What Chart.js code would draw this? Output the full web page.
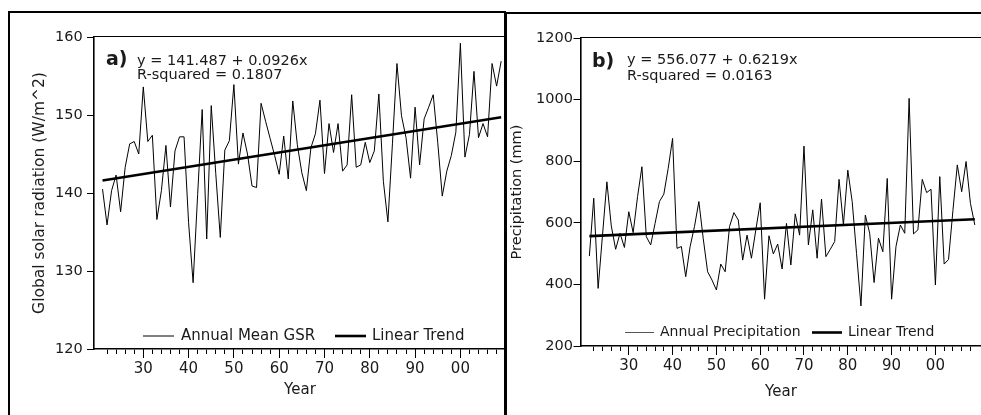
<!DOCTYPE html>
<html>
<head>
<meta charset="utf-8">
<script src="https://cdn.jsdelivr.net/npm/chart.js@4.4.1/dist/chart.umd.min.js"></script>
<style>
html,body{margin:0;padding:0;background:#fff;width:981px;height:415px;overflow:hidden;}
#wrap{position:relative;width:981px;height:415px;overflow:hidden;}
canvas{position:absolute;top:0;}
#cA{left:0;}
#cB{left:506px;}
.frameA{position:absolute;left:8px;top:11px;width:496px;height:430px;border-left:2px solid #000;border-top:2px solid #000;pointer-events:none;}
.frameB{position:absolute;left:504px;top:12px;width:500px;height:430px;border-left:3px solid #000;border-top:2px solid #000;pointer-events:none;}
</style>
</head>
<body>
<div id="wrap">
  <canvas id="cA" width="506" height="415"></canvas>
  <canvas id="cB" width="475" height="415"></canvas>
  <div class="frameA"></div>
  <div class="frameB"></div>
</div>
<script>
// ---------- data ----------
const years = [1921,1922,1923,1924,1925,1926,1927,1928,1929,1930,
  1931,1932,1933,1934,1935,1936,1937,1938,1939,1940,
  1941,1942,1943,1944,1945,1946,1947,1948,1949,1950,
  1951,1952,1953,1954,1955,1956,1957,1958,1959,1960,
  1961,1962,1963,1964,1965,1966,1967,1968,1969,1970,
  1971,1972,1973,1974,1975,1976,1977,1978,1979,1980,
  1981,1982,1983,1984,1985,1986,1987,1988,1989,1990,
  1991,1992,1993,1994,1995,1996,1997,1998,1999,2000,
  2001,2002,2003,2004,2005,2006,2007,2008,2009];

const gsr = [140.5,135.9,140.3,142.3,137.6,143.3,146.3,146.6,145.0,153.6,
  146.6,147.4,136.6,140.3,146.1,138.2,145.4,147.2,147.2,136.2,
  128.5,139.8,150.7,134.1,151.2,142.5,134.3,145.5,146.7,153.9,
  143.7,147.7,145.0,140.9,140.7,151.5,149.2,147.0,144.8,142.4,
  147.3,141.8,151.8,146.2,142.6,140.3,145.8,147.6,151.9,142.5,
  148.9,145.2,148.9,142.8,143.6,152.6,143.3,143.6,146.5,143.9,
  145.4,152.7,141.5,136.3,146.3,156.6,149.9,147.1,141.9,151.0,
  143.6,149.5,151.0,152.6,146.5,139.6,142.8,144.8,147.8,159.2,
  144.6,147.5,155.6,147.1,148.9,147.2,156.6,153.7,156.9];

const precip = [492,680,387,560,733,590,514,566,520,636,
  568,685,782,555,528,598,669,693,777,874,
  517,523,425,523,588,669,548,441,414,382,
  466,441,588,633,609,479,560,485,577,665,
  352,558,499,531,450,598,463,629,560,849,
  528,642,485,677,490,514,539,741,593,771,
  669,500,330,625,566,406,550,506,744,352,
  523,593,566,1004,564,577,741,698,709,398,
  750,466,481,640,788,701,799,663,593];

const trendYears = [1921, 2009];
const gsrTrend = [141.6, 149.7];
const precipTrend = [556.7, 611.4];

const minorTicks = [1922,1924,1926,1928,1930,1932,1934,1936,1938,1940,1942,1944,1946,1948,
  1950,1952,1954,1956,1958,1960,1962,1964,1966,1968,1970,1972,1974,1976,1978,1980,
  1982,1984,1986,1988,1990,1992,1994,1996,1998,2000,2002,2004,2006,2008];
const majorTicks = [1930,1940,1950,1960,1970,1980,1990,2000];
const tickLabels = ['30','40','50','60','70','80','90','00'];
const gsrTicks = [120,130,140,150,160];
const precipTicks = [200,400,600,800,1000,1200];

// ---------- drawing ----------
const F = '"DejaVu Sans", sans-serif';
const TXT = '#1a1a1a';

const decor = {
  id: 'decor',
  afterDraw(chart, args, o) {
    const {ctx, chartArea: a, scales: {x}} = chart;
    ctx.save();
    ctx.strokeStyle = '#000';
    ctx.lineWidth = 1.2;
    ctx.beginPath();
    ctx.moveTo(a.left, a.top - 0.5);
    ctx.lineTo(a.right, a.top - 0.5);
    ctx.stroke();
    ctx.lineWidth = 1;
    majorTicks.forEach(v => {
      const px = Math.round(x.getPixelForValue(v) - 0.5) + 0.5;
      ctx.beginPath();
      ctx.moveTo(px, a.bottom);
      ctx.lineTo(px, a.bottom + 9);
      ctx.stroke();
    });
    ctx.fillStyle = TXT;
    ctx.textAlign = 'left';
    ctx.textBaseline = 'alphabetic';
    ctx.font = 'bold 19px ' + F;
    ctx.fillText(o.tag, o.tagX, o.tagY);
    ctx.font = '14.5px ' + F;
    o.lines.forEach((t, i) => ctx.fillText(t, o.textX, o.lineY[i]));
    chart.data.datasets.forEach((ds, i) => {
      const L = o.legend[i];
      ctx.strokeStyle = L.color;
      ctx.lineWidth = ds.borderWidth;
      ctx.beginPath();
      ctx.moveTo(L.x1, L.y);
      ctx.lineTo(L.x2, L.y);
      ctx.stroke();
      ctx.fillStyle = TXT;
      ctx.font = o.legendSize + 'px ' + F;
      ctx.textBaseline = 'middle';
      ctx.fillText(ds.label, L.tx, L.y);
    });
    ctx.restore();
  }
};

function makeChart(id, c) {
  return new Chart(document.getElementById(id), {
    type: 'line',
    data: {
      datasets: [
        { label: c.label, data: years.map((y, i) => ({x: y, y: c.values[i]})),
          borderColor: '#000', borderWidth: 1, pointRadius: 0, tension: 0, fill: false },
        { label: 'Linear Trend', data: trendYears.map((y, i) => ({x: y, y: c.trend[i]})),
          borderColor: '#000', borderWidth: 2.6, pointRadius: 0, tension: 0, fill: false }
      ]
    },
    options: {
      responsive: false,
      animation: false,
      devicePixelRatio: 1,
      layout: { padding: { top: c.top, left: 0, right: 0, bottom: 0 } },
      plugins: { legend: { display: false }, tooltip: { enabled: false }, decor: c.decor },
      scales: {
        x: {
          type: 'linear', min: c.xMin, max: c.xMax,
          afterBuildTicks: s => { s.ticks = minorTicks.map(v => ({value: v})); },
          afterFit: s => { s.height = c.xH; s.paddingLeft = 0; s.paddingRight = 0; },
          grid: { drawOnChartArea: false, drawTicks: true, tickLength: 5, color: '#000', lineWidth: 1 },
          border: { display: true, color: '#000', width: 1.6 },
          ticks: { autoSkip: false, maxRotation: 0, minRotation: 0, padding: c.xPad, color: TXT,
            font: { family: F, size: 15 },
            callback: v => { const i = majorTicks.indexOf(v); return i >= 0 ? tickLabels[i] : ''; } },
          title: { display: true, text: 'Year', color: TXT, font: { family: F, size: 15 },
            padding: { top: 0, bottom: c.xTitlePad } }
        },
        y: {
          type: 'linear', min: c.yMin, max: c.yMax,
          afterBuildTicks: s => { s.ticks = c.yTicks.map(v => ({value: v})); },
          afterFit: s => { s.width = c.yW; },
          grid: { drawOnChartArea: false, drawTicks: true, tickLength: c.yTick, color: '#000', lineWidth: 1 },
          border: { display: true, color: '#000', width: 1.6 },
          ticks: { padding: c.yPad, color: TXT, font: { family: F, size: 14.5 },
            callback: v => String(v) },
          title: { display: true, text: c.yTitle, color: TXT, font: { family: F, size: c.yTitleSize },
            padding: { top: c.yTitlePad, bottom: 0 } }
        }
      }
    },
    plugins: [decor]
  });
}

makeChart('cA', {
  label: 'Annual Mean GSR', values: gsr, trend: gsrTrend,
  xMin: 1919.12, xMax: 2010.07, yMin: 120, yMax: 160, yTicks: gsrTicks,
  top: 37, xH: 66, yW: 94, xPad: 5.7, xTitlePad: 16, yTick: 7, yPad: 4.3,
  yTitle: 'Global solar radiation (W/m^2)', yTitleSize: 15.5, yTitlePad: 30.2,
  decor: {
    tag: 'a)', tagX: 106, tagY: 65,
    textX: 137, lines: ['y = 141.487 + 0.0926x', 'R-squared = 0.1807'], lineY: [65, 79],
    legendSize: 15,
    legend: [
      { x1: 143, x2: 174, y: 336, tx: 181, color: '#000' },
      { x1: 335, x2: 366, y: 336, tx: 372, color: '#000' }
    ]
  }
});

makeChart('cB', {
  label: 'Annual Precipitation', values: precip, trend: precipTrend,
  xMin: 1919.09, xMax: 2010.41, yMin: 200, yMax: 1200, yTicks: precipTicks,
  top: 38, xH: 69, yW: 75, xPad: 5.8, xTitlePad: 14.3, yTick: 7.5, yPad: 0.5,
  yTitle: 'Precipitation (mm)', yTitleSize: 14.5, yTitlePad: 2.8,
  decor: {
    tag: 'b)', tagX: 86, tagY: 66.5,
    textX: 121, lines: ['y = 556.077 + 0.6219x', 'R-squared = 0.0163'], lineY: [63.5, 79.5],
    legendSize: 14,
    legend: [
      { x1: 119, x2: 148, y: 332.5, tx: 154, color: '#555' },
      { x1: 306, x2: 336, y: 332.5, tx: 342, color: '#000' }
    ]
  }
});
</script>
</body>
</html>
